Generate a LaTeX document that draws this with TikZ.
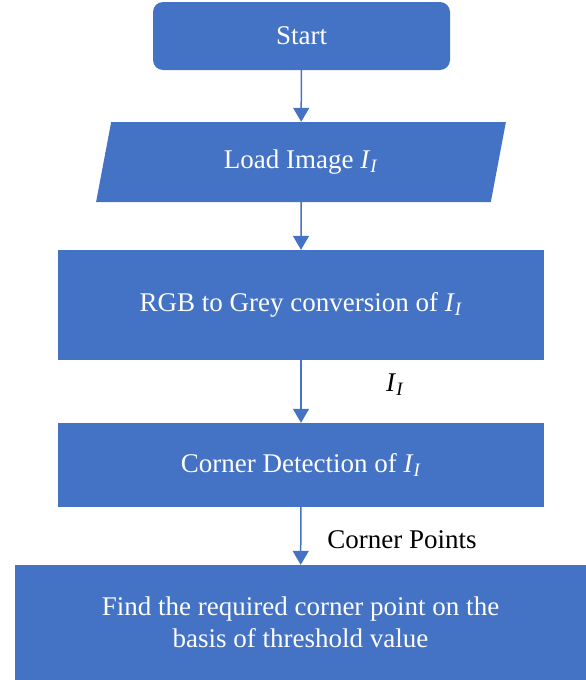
\documentclass[tikz,border=0pt]{standalone}
\usepackage{fontspec}
\setmainfont{Liberation Serif}
\usetikzlibrary{arrows.meta,shapes.geometric}
\definecolor{flowblue}{HTML}{4472C4}
\tikzset{
  startbox/.style = {rectangle, rounded corners=10pt, fill=flowblue,
                     text=white, font=\fontsize{27}{31}\selectfont,
                     minimum width=297pt, minimum height=68pt, inner sep=0pt},
  iobox/.style    = {trapezium, trapezium left angle=76,
                     trapezium right angle=104, trapezium stretches=true,
                     fill=flowblue, text=white, font=\fontsize{27}{31}\selectfont,
                     minimum width=410pt, minimum height=80pt, inner sep=0pt},
  procbox/.style  = {rectangle, fill=flowblue, text=white,
                     font=\fontsize{27}{31}\selectfont,
                     minimum width=486pt, inner sep=0pt},
  flow/.style     = {flowblue, line width=1.5pt,
                     -{Triangle[width=16pt,length=14pt]}},
  flowlbl/.style  = {text=black, font=\fontsize{27}{31}\selectfont, inner sep=0pt},
}
\newcommand{\imgI}{\textit{I}\textsubscript{\textit{I}}}

\begin{document}
\begin{tikzpicture}[x=1pt, y=-1pt]
  \useasboundingbox (0,0) rectangle (586,680);
  \node[startbox] (start) at (301.5,36) {Start};
  \node[iobox] (load) at (301,162) {Load Image \imgI};
  \node[procbox, minimum height=110pt] (grey) at (301,305) {RGB to Grey conversion of \imgI};
  \node[procbox, minimum height=84pt] (corner) at (301,465) {Corner Detection of \imgI};
  \node[procbox, minimum width=571pt, minimum height=115pt, align=center,
        font=\fontsize{27}{32}\selectfont]
       (find) at (300.5,622.5) {Find the required corner point on the\\basis of threshold value};
  \draw[flow] (start) -- (load);
  \draw[flow] (load) -- (grey);
  \draw[flow] (grey) -- (corner);
  \draw[flow] (corner) -- (find);
  \node[flowlbl] (lblI) at (395,385) {\imgI};
  \node[flowlbl] (lblpts) at (402,540) {Corner Points};
\end{tikzpicture}
\end{document}
